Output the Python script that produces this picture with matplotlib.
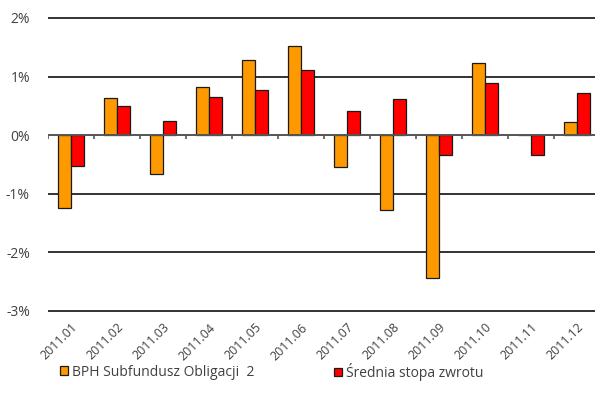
import matplotlib
matplotlib.use("Agg")
import matplotlib.pyplot as plt
from matplotlib.patches import Patch
from matplotlib.ticker import FuncFormatter
import numpy as np

plt.rcParams['font.family'] = ['Open Sans', 'DejaVu Sans']

months = ["2011.01", "2011.02", "2011.03", "2011.04", "2011.05", "2011.06",
          "2011.07", "2011.08", "2011.09", "2011.10", "2011.11", "2011.12"]
fund = [-1.25, 0.63, -0.67, 0.82, 1.28, 1.52, -0.55, -1.28, -2.44, 1.23, 0.01, 0.22]
average = [-0.53, 0.49, 0.24, 0.65, 0.77, 1.11, 0.41, 0.61, -0.34, 0.89, -0.34, 0.72]
series_names = ["BPH Subfundusz Obligacji  2", "Średnia stopa zwrotu"]
y_ticks = [-3, -2, -1, 0, 1, 2]

ORANGE = "#FF9900"
RED = "#FF0000"
EDGE = "#1a1a1a"
GRID = "#333333"
TEXT = "#404040"

fig = plt.figure(figsize=(5.95, 4.09), dpi=100)
ax = fig.add_axes([48 / 595, 0.2325, 1 - 48 / 595, 0.7307])

x = np.arange(len(months))
w = 0.28
ax.bar(x - w / 2, fund, width=w, color=ORANGE, edgecolor=EDGE, linewidth=0.9, zorder=3)
ax.bar(x + w / 2, average, width=w, color=RED, edgecolor=EDGE, linewidth=0.9, zorder=3)

ax.set_xlim(-0.5, -0.5 + 547 / 46)
ax.set_ylim(-3.05, 2.05)

# horizontal grid
for t in y_ticks:
    if t != 0:
        ax.axhline(t, color=GRID, linewidth=1.4, zorder=1)
ax.axhline(0, color="#555555", linewidth=1.4, zorder=4)
# category boundary ticks on the zero line
bounds = np.arange(len(months) + 1) - 0.5
ax.vlines(bounds, -0.07, 0, color="#555555", linewidth=1.2, zorder=4)

for s in ax.spines.values():
    s.set_visible(False)

ax.set_yticks(y_ticks)
ax.yaxis.set_major_formatter(FuncFormatter(lambda v, p: f"{int(v)}%"))
ax.tick_params(axis='y', length=0, pad=13, labelsize=10, labelcolor=TEXT)

ax.set_xticks(x)
ax.set_xticklabels(months, rotation=45, ha='right', rotation_mode='anchor')
ax.tick_params(axis='x', length=0, pad=5, labelsize=9, labelcolor=TEXT)

h1 = Patch(facecolor=ORANGE, edgecolor=EDGE, linewidth=0.9)
h2 = Patch(facecolor=RED, edgecolor=EDGE, linewidth=0.9)
for h, name, xpos in [(h1, series_names[0], 60 / 595), (h2, series_names[1], 334 / 595)]:
    fig.legend([h], [name], loc='center left', bbox_to_anchor=(xpos, 1 - 372 / 409),
               frameon=False, fontsize=10, handlelength=0.6, handleheight=0.55,
               handletextpad=0.25, borderpad=0, borderaxespad=0, labelcolor=TEXT)

fig.savefig("out.png", dpi=100)
